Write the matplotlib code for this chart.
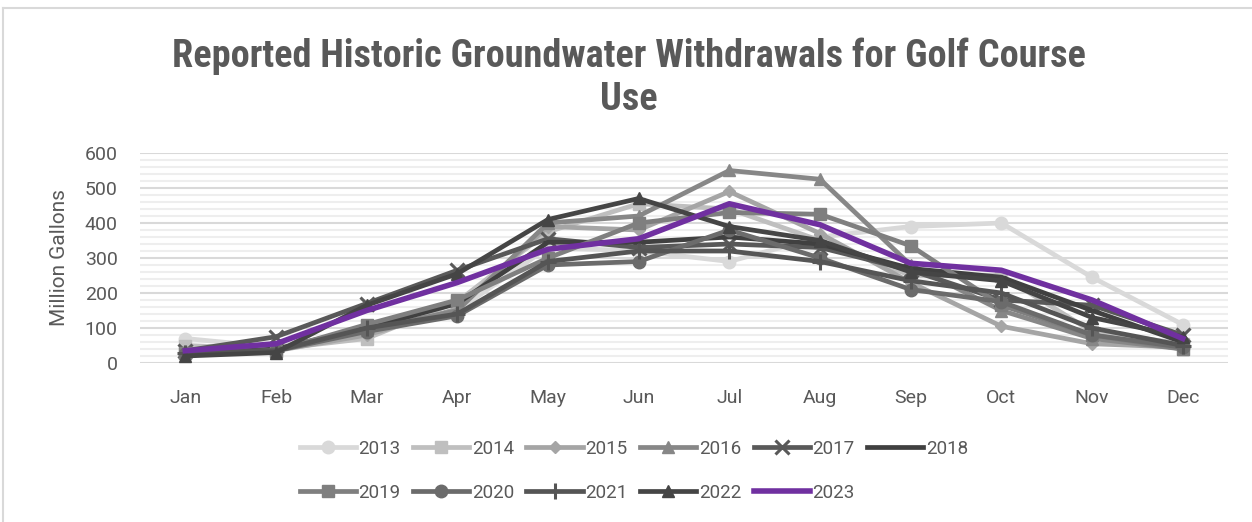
import matplotlib
matplotlib.use("Agg")
import matplotlib.pyplot as plt
from matplotlib import font_manager
from matplotlib.lines import Line2D
from matplotlib.ticker import MultipleLocator

months = ["Jan", "Feb", "Mar", "Apr", "May", "Jun", "Jul", "Aug", "Sep", "Oct", "Nov", "Dec"]
years = ["2013", "2014", "2015", "2016", "2017", "2018", "2019", "2020", "2021", "2022", "2023"]

s2013 = [70, 45, 95, 150, 330, 320, 290, 360, 390, 400, 245, 110]
s2014 = [50, 40, 70, 175, 375, 455, 440, 350, 250, 250, 90, 55]
s2015 = [35, 35, 80, 155, 390, 380, 490, 370, 230, 105, 55, 45]
s2016 = [30, 35, 95, 150, 400, 420, 550, 525, 280, 150, 70, 40]
s2017 = [35, 75, 170, 265, 355, 330, 340, 330, 265, 180, 165, 80]
s2018 = [25, 40, 100, 170, 345, 345, 360, 340, 270, 245, 150, 60]
s2019 = [30, 35, 110, 180, 300, 400, 430, 425, 335, 165, 80, 40]
s2020 = [25, 35, 90, 135, 280, 290, 380, 300, 210, 175, 80, 45]
s2021 = [30, 35, 100, 140, 290, 320, 320, 290, 235, 200, 100, 50]
s2022 = [20, 30, 165, 255, 410, 470, 390, 350, 260, 235, 130, 75]
s2023 = [35, 55, 150, 230, 325, 355, 455, 395, 285, 265, 180, 70]
series = [s2013, s2014, s2015, s2016, s2017, s2018, s2019, s2020, s2021, s2022, s2023]

colors = ["#d9d9d9", "#bfbfbf", "#a5a5a5", "#878787", "#595959", "#404040",
          "#7f7f7f", "#6b6b6b", "#555555", "#454545", "#7030a0"]
markers = ["o", "s", "D", "^", "x", "_", "s", "o", "+", "^", None]
msizes = [9, 8, 6, 8, 10, 7, 9, 9, 11, 8, 0]

avail = {f.name for f in font_manager.fontManager.ttflist}

def pick(cands):
    for c in cands:
        if c in avail:
            return c
    return "DejaVu Sans"

title_fam = pick(["Roboto Condensed", "Liberation Sans Narrow", "Roboto"])
body_fam = pick(["Roboto", "Lato", "Open Sans"])
plt.rcParams["font.family"] = [body_fam, "DejaVu Sans"]

W, H = 1252, 522
fig = plt.figure(figsize=(W / 100, H / 100), dpi=100)
ax = fig.add_axes([140 / W, 1 - 363 / H, (1228 - 140) / W, (363 - 153) / H])

x = list(range(len(months)))
handles = []
for i, (yr, vals) in enumerate(zip(years, series)):
    lw = 4.0 if yr == "2023" else 3.4
    kw = {}
    if markers[i]:
        mew = 2.2 if markers[i] in ("x", "+", "_") else 1
        kw = dict(marker=markers[i], markersize=msizes[i], markeredgewidth=mew,
                  markerfacecolor=colors[i], markeredgecolor=colors[i])
    h, = ax.plot(x, vals, color=colors[i], lw=lw, label=yr, zorder=3 + i,
                 solid_joinstyle="round", **kw)
    handles.append(h)

ax.set_xlim(-0.5, 11.5)
ax.set_ylim(0, 600)
ax.yaxis.set_major_locator(MultipleLocator(100))
ax.yaxis.set_minor_locator(MultipleLocator(20))
ax.grid(which="major", axis="y", color="#d9d9d9", lw=1.5, zorder=0)
ax.grid(which="minor", axis="y", color="#eeeeee", lw=1.5, zorder=0)
ax.set_axisbelow(True)
for sp in ax.spines.values():
    sp.set_visible(False)
ax.set_xticks(x)
ax.set_xticklabels(months)
ax.tick_params(axis="both", which="both", length=0, labelsize=14, colors="#595959")
ax.tick_params(axis="x", pad=19)
ax.tick_params(axis="y", pad=16)
ax.set_ylabel("Million Gallons", fontsize=15, color="#595959")
ax.yaxis.set_label_coords((69 - 140) / 1088, 0.5)

fig.text(629 / W, 1 - 56 / H, "Reported Historic Groundwater Withdrawals for Golf Course",
         ha="center", va="center", fontsize=27.5, fontweight="bold", color="#595959",
         family=[title_fam, "DejaVu Sans"])
fig.text(629 / W, 1 - 99 / H, "Use", ha="center", va="center", fontsize=27.5,
         fontweight="bold", color="#595959", family=[title_fam, "DejaVu Sans"])

order = [0, 6, 1, 7, 2, 8, 3, 9, 4, 10, 5]
leg = fig.legend([handles[k] for k in order], [years[k] for k in order],
                 ncol=6, loc="upper left", bbox_to_anchor=(292 / W, 1 - 432 / H),
                 frameon=False, fontsize=13.5, handlelength=3.0, handletextpad=0.15,
                 columnspacing=0.65, labelspacing=1.4, borderaxespad=0)
for t in leg.get_texts():
    t.set_color("#595959")

fig.add_artist(Line2D([3 / W, 1], [1 - 8 / H, 1 - 8 / H], color="#d9d9d9", lw=1.5))
fig.add_artist(Line2D([3 / W, 3 / W], [0, 1 - 8 / H], color="#d9d9d9", lw=1.5))

fig.savefig("out.png", dpi=100)
